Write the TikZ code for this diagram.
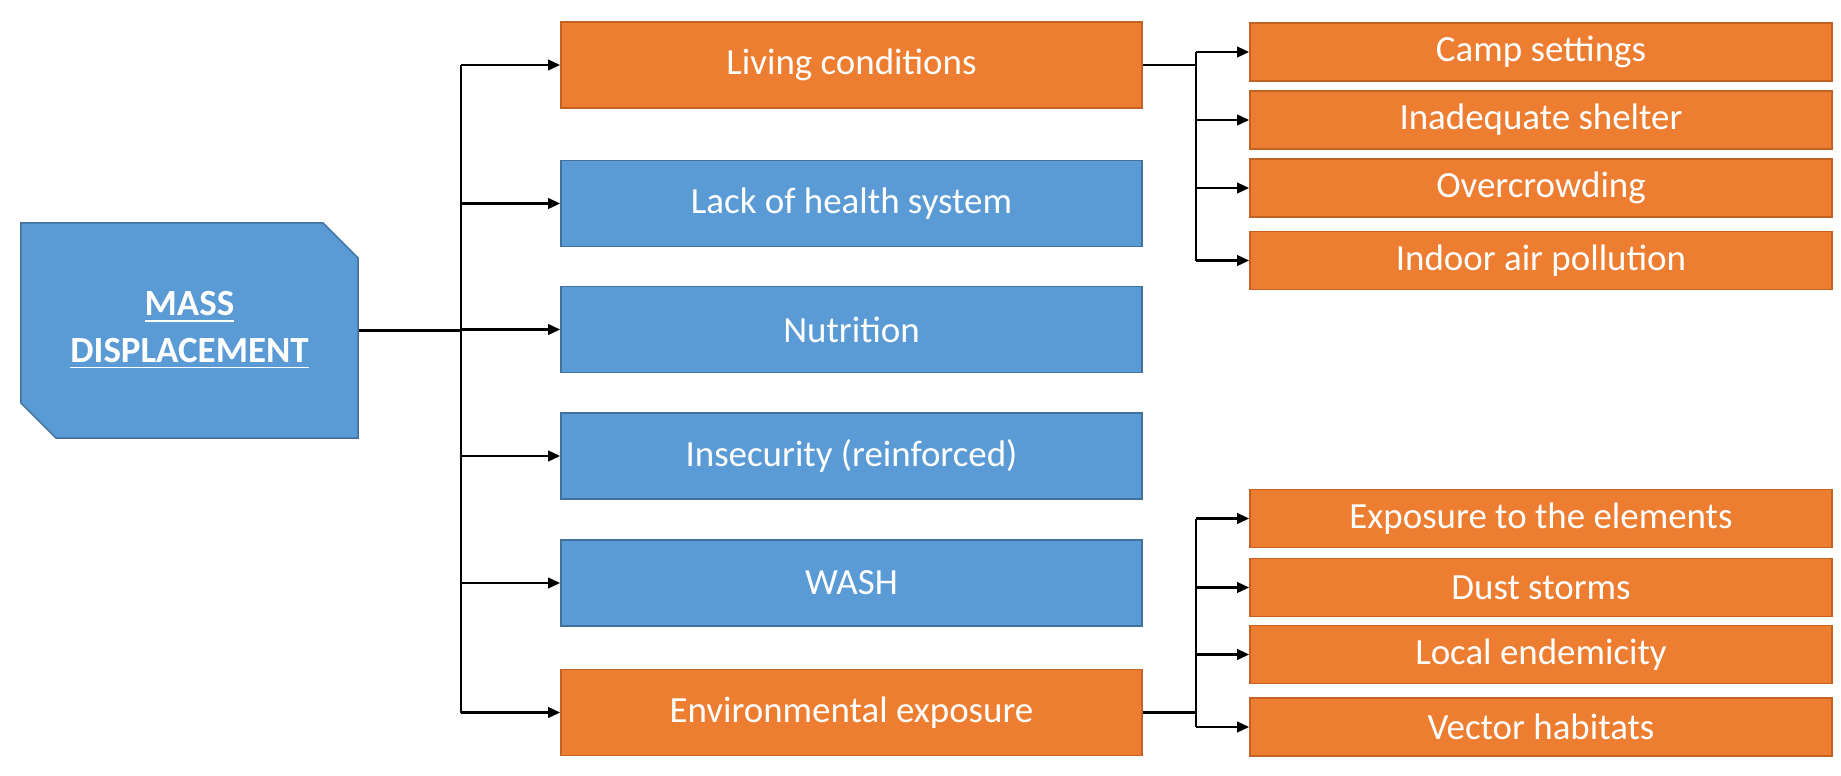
\documentclass[tikz,border=0pt]{standalone}
\usepackage{fontspec}
\setmainfont{Carlito}
\usetikzlibrary{shapes.misc,arrows.meta}
\definecolor{boxorange}{RGB}{237,125,49}
\definecolor{boxblue}{RGB}{91,155,213}
\definecolor{orangeline}{RGB}{196,98,34}
\definecolor{blueline}{RGB}{65,113,156}
\begin{document}
\begin{tikzpicture}[x=0.01cm, y=-0.01cm,
		txt/.style={font=\fontsize{10.5}{12.2}\selectfont, text=white, inner sep=0pt},
		midbox/.style={txt, line width=0.4pt, minimum width=5.81cm, minimum height=0.86cm},
		subbox/.style={txt, draw=orangeline, fill=boxorange, line width=0.4pt, minimum width=5.82cm, minimum height=0.58cm},
		orangebox/.style={midbox, draw=orangeline, fill=boxorange},
		bluebox/.style={midbox, draw=blueline, fill=boxblue},
		link/.style={line width=0.6pt},
		arr/.style={link, -{Triangle[length=3.4pt, width=3pt]}}
	]
		\useasboundingbox (0, 0) rectangle (1841, 775);

		\node[txt, font=\fontsize{10.5}{13.2}\selectfont\bfseries, chamfered rectangle,
			chamfered rectangle corners={north east, south west},
			chamfered rectangle xsep=0.175cm, chamfered rectangle ysep=0.175cm,
			draw=blueline, fill=boxblue, line width=0.4pt,
			minimum width=3.37cm, minimum height=2.15cm, align=center]
			(mass) at (189.5, 330.5) {\underline{MASS}\\\underline{DISPLACEMENT}};

		\node[orangebox] (living) at (851.5, 65) {Living conditions};
		\node[bluebox] (health) at (851.5, 203.5) {Lack of health system};
		\node[bluebox] (nutrition) at (851.5, 329.5) {Nutrition};
		\node[bluebox] (insecurity) at (851.5, 456) {Insecurity (reinforced)};
		\node[bluebox] (wash) at (851.5, 583) {WASH};
		\node[orangebox] (env) at (851.5, 712.5) {Environmental exposure};

		\node[subbox] (camp) at (1541, 52) {Camp settings};
		\node[subbox] (shelter) at (1541, 120) {Inadequate shelter};
		\node[subbox] (crowding) at (1541, 188) {Overcrowding};
		\node[subbox] (indoor) at (1541, 260.5) {Indoor air pollution};

		\node[subbox] (elements) at (1541, 518.5) {Exposure to the elements};
		\node[subbox] (dust) at (1541, 587.5) {Dust storms};
		\node[subbox] (endemic) at (1541, 654.5) {Local endemicity};
		\node[subbox] (vector) at (1541, 727) {Vector habitats};

		\coordinate (trunk) at (461, 0);
		\coordinate (split) at (1196, 0);

		% main trunk
		\draw[link] (mass.east) -- (mass.east -| trunk);
		\draw[link] (trunk |- living) -- (trunk |- env);
		\foreach \n in {living, health, nutrition, insecurity, wash, env}
			\draw[arr] (trunk |- \n) -- (\n);

		% living conditions
		\draw[link] (living.east) -- (living.east -| split);
		\draw[link] (split |- camp) -- (split |- indoor);
		\foreach \n in {camp, shelter, crowding, indoor}
			\draw[arr] (split |- \n) -- (\n);

		% environmental exposure
		\draw[link] (env.east) -- (env.east -| split);
		\draw[link] (split |- elements) -- (split |- vector);
		\foreach \n in {elements, dust, endemic, vector}
			\draw[arr] (split |- \n) -- (\n);
	\end{tikzpicture}
\end{document}
